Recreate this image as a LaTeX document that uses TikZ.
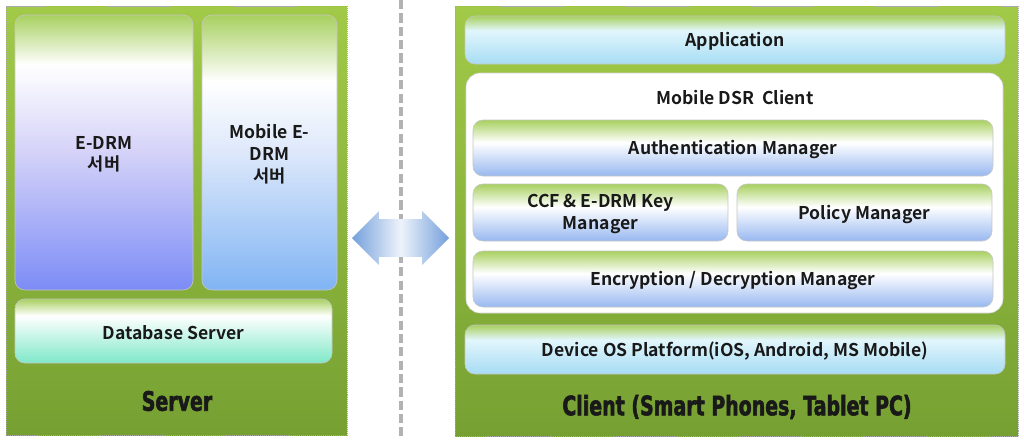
\documentclass[tikz,border=0pt]{standalone}
\usepackage{fontspec}
\setmainfont{Noto Sans CJK KR}[BoldFont={Noto Sans CJK KR Bold}]
\newfontfamily\headfont{DejaVu Sans Bold}[FakeStretch=0.71, FakeBold=2]
\usetikzlibrary{fit,shapes.arrows}

\definecolor{panelhi}{HTML}{A2CA48}
\definecolor{panello}{HTML}{76A032}
\definecolor{leafgreen}{HTML}{A8D060}
\definecolor{edrmblue}{HTML}{7C8CF6}
\definecolor{edrmmid}{HTML}{D4D2F8}
\definecolor{mobblue}{HTML}{80B4F4}
\definecolor{mobmid}{HTML}{DDE8FA}
\definecolor{dbmint}{HTML}{7EE8C8}
\definecolor{appcyan}{HTML}{A6DCF4}
\definecolor{apppale}{HTML}{E2F6FC}
\definecolor{mgrblue}{HTML}{98B8F0}
\definecolor{arrowblue}{HTML}{74A0DC}
\definecolor{arrowpale}{HTML}{EEF3FA}

% vertical shadings, bottom (25bp) to top (75bp)
\pgfdeclareverticalshading{edrmshade}{100bp}{color(0bp)=(edrmblue); color(25bp)=(edrmblue);
  color(50bp)=(edrmmid); color(66bp)=(white); color(75bp)=(leafgreen); color(100bp)=(leafgreen)}
\pgfdeclareverticalshading{mobshade}{100bp}{color(0bp)=(mobblue); color(25bp)=(mobblue);
  color(50bp)=(mobmid); color(63bp)=(white); color(75bp)=(leafgreen); color(100bp)=(leafgreen)}
\pgfdeclareverticalshading{dbshade}{100bp}{color(0bp)=(dbmint); color(25bp)=(dbmint);
  color(62bp)=(white); color(75bp)=(leafgreen); color(100bp)=(leafgreen)}
\pgfdeclareverticalshading{appshade}{100bp}{color(0bp)=(appcyan); color(25bp)=(appcyan);
  color(60bp)=(apppale); color(75bp)=(leafgreen); color(100bp)=(leafgreen)}
\pgfdeclareverticalshading{mgrshade}{100bp}{color(0bp)=(mgrblue); color(25bp)=(mgrblue);
  color(55bp)=(white); color(75bp)=(leafgreen); color(100bp)=(leafgreen)}

\begin{document}
\begin{tikzpicture}[x=0.025cm,y=-0.025cm,
    panel/.style={top color=panelhi, bottom color=panello, draw=gray!70, densely dotted, inner sep=0pt},
    block/.style={rounded corners=7pt, draw=gray!45, inner sep=0pt},
    blocktext/.style={align=center, font=\fontsize{12.5}{15.5}\selectfont\bfseries, text=black!90, yshift=-1.2pt},
    headlbl/.style={font=\headfont\fontsize{19}{21}\selectfont, text=black!90},
    sepline/.style={gray!60, line width=2.8pt, dash pattern=on 6.5pt off 3pt},
    link/.style={double arrow, double arrow head extend=0.2cm, inner xsep=0pt, inner ysep=0.4625cm,
      minimum height=2.425cm,
      left color=arrowblue, right color=arrowblue, middle color=arrowpale}]

\useasboundingbox[fill=white] (0,0) rectangle (1024,443);

% server
\node[panel, fit={(6,6) (347,435)}] (server) {};
\node[block, shading=edrmshade, fit={(15,15) (193,290)}, label={[blocktext]center:E-DRM\\서버}] (edrm) {};
\node[block, shading=mobshade, fit={(202,15) (337,290)}, label={[blocktext]center:Mobile E-\\DRM\\서버}] (mobedrm) {};
\node[block, shading=dbshade, fit={(15,299) (332,363)}, label={[blocktext]center:Database Server}] (db) {};
\node[headlbl] (serverlbl) at (177,401) {Server};

% separator and link
\coordinate (septop) at (401,0);
\coordinate (sepbot) at (401,436);
\draw[sepline] (septop) -- (sepbot);
\node[link] (xchg) at (400.5,238) {};

% client
\node[panel, fit={(455,6) (1018,436)}] (client) {};
\node[block, shading=appshade, fit={(465,16) (1005,64)}, label={[blocktext]center:Application}] (app) {};
\node[block, fill=white, draw=gray!35, rounded corners=10pt, fit={(466,73) (1003,313)}] (dsr) {};
\node[blocktext] (dsrlbl) at (735,96) {Mobile DSR\ \ Client};
\node[block, shading=mgrshade, fit={(473,120) (993,176)}, label={[blocktext]center:Authentication Manager}] (auth) {};
\node[block, shading=mgrshade, fit={(473,184) (728,241)}, label={[blocktext]center:CCF \& E-DRM Key\\Manager}] (ccf) {};
\node[block, shading=mgrshade, fit={(737,184) (992,241)}, label={[blocktext]center:Policy Manager}] (policy) {};
\node[block, shading=mgrshade, fit={(473,251) (993,307)}, label={[blocktext]center:Encryption / Decryption Manager}] (crypt) {};
\node[block, shading=appshade, fit={(465,325) (1005,374)}, label={[blocktext]center:Device OS Platform(iOS, Android, MS Mobile)}] (devos) {};
\node[headlbl] (clientlbl) at (737,407) {Client (Smart Phones, Tablet PC)};

\end{tikzpicture}
\end{document}
